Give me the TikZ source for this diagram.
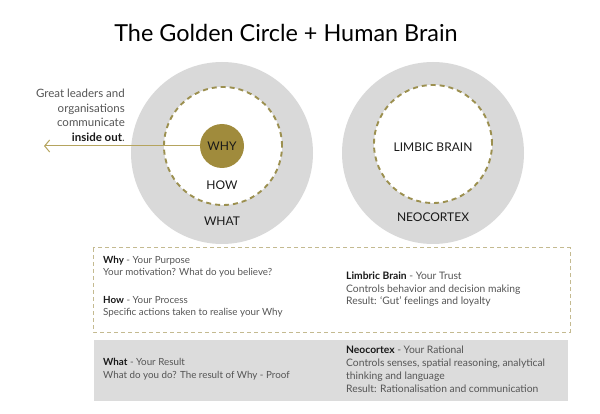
\documentclass[tikz,border=0pt]{standalone}
\usepackage{fontspec}
\setmainfont{Lato}
\usepackage{xcolor}
\usetikzlibrary{arrows.meta}

\definecolor{gold}{HTML}{A08B3C}
\definecolor{dashgold}{HTML}{9C9050}
\definecolor{lightgold}{HTML}{B5A45E}
\definecolor{ringgray}{HTML}{D9D9D9}
\definecolor{boxgray}{HTML}{DCDCDC}
\definecolor{boxline}{HTML}{C4BA90}
\definecolor{textgray}{HTML}{555555}

\begin{document}
\begin{tikzpicture}[x=1pt, y=-1pt,
  every node/.style={inner sep=0pt, font=\fontsize{9.8}{12}\selectfont},
  ring/.style={circle, fill=ringgray, minimum size=182pt},
  core/.style={circle, fill=white, draw=dashgold, line width=1.9pt, dash pattern=on 5pt off 4pt, minimum size=118pt},
  ringlabel/.style={font=\fontsize{12}{14}\selectfont, text=black!90},
  info/.style={anchor=north west, align=left, text=textgray},
  wide/.style={font=\fontsize{10.3}{12.5}\selectfont}]
  \useasboundingbox (0,0) rectangle (600,414);

  % title
  \node[anchor=base, font=\fontsize{23.4}{28}\selectfont] (title) at (286,42) {The Golden Circle + Human Brain};

  % golden circle
  \node[ring] (what) at (222,153) {};
  \node[core] (how) at (223,146) {};
  \coordinate (whyc) at (222,146);
  \coordinate (outtip) at (44,146);
  \draw[lightgold, line width=1pt, -{Straight Barb[length=5pt, width=12pt]}] (whyc) -- (outtip);
  \node[circle, fill=gold, minimum size=44pt, ringlabel] (why) at (whyc) {WHY};
  \node[ringlabel] (howlbl) at (222,185) {HOW};
  \node[ringlabel] (whatlbl) at (222,221) {WHAT};
  \node[anchor=north east, align=right, text=textgray, font=\fontsize{11.5}{14.5}\selectfont] (lead) at (125,89)
    {Great leaders and\\organisations\\communicate\\{\color{black!90}\bfseries inside out}.};

  % human brain
  \node[ring] (neo) at (433,153) {};
  \node[core] (limbic) at (433,144) {};
  \node[ringlabel] (limbiclbl) at (433,147) {LIMBIC BRAIN};
  \node[ringlabel] (neolbl) at (433,217) {NEOCORTEX};

  % boxes
  \draw[boxline, line width=1pt, dash pattern=on 4pt off 3pt] (93,248) rectangle (570,332);
  \fill[boxgray] (94,340) rectangle (568,401);

  \node[info] (whytxt) at (103,256.5) {{\color{black!90}\bfseries Why} - Your Purpose\\Your motivation? What do you believe?};
  \node[info] (howtxt) at (103,296.5) {{\color{black!90}\bfseries How} - Your Process\\Specific actions taken to realise your Why};
  \node[info, wide] (limbictxt) at (346,272) {{\color{black!90}\bfseries Limbric Brain} - Your Trust\\Controls behavior and decision making\\Result: `Gut' feelings and loyalty};
  \node[info, font=\fontsize{9.8}{12.6}\selectfont] (whattxt) at (103,358) {{\color{black!90}\bfseries What} - Your Result\\What do you do? The result of Why - Proof};
  \node[info, wide, font=\fontsize{10.3}{13}\selectfont] (neotxt) at (346,346) {{\color{black!90}\bfseries Neocortex} - Your Rational\\Controls senses, spatial reasoning, analytical\\thinking and language\\Result: Rationalisation and communication};
\end{tikzpicture}
\end{document}
